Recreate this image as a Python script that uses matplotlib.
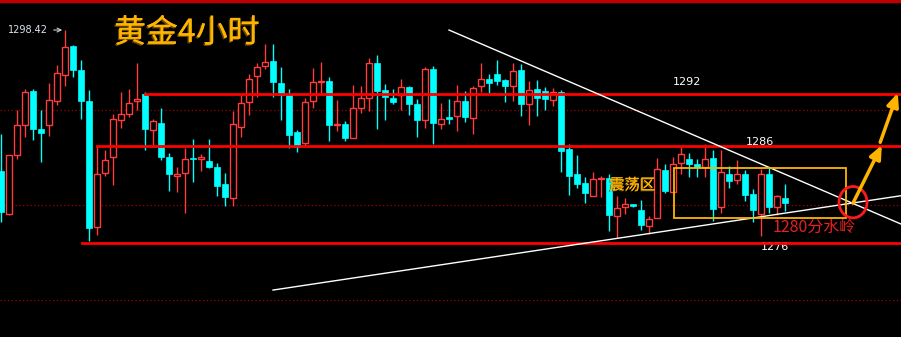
import matplotlib
matplotlib.use("Agg")
import matplotlib.pyplot as plt
import matplotlib.patheffects as pe
from matplotlib.patches import Rectangle, Ellipse, FancyArrowPatch

plt.rcParams["font.family"] = ["Noto Sans CJK SC", "DejaVu Sans"]

# 4h gold candles (price units)
opens = [1283.6, 1279.1, 1285.3, 1288.4, 1292.0, 1288.0, 1288.4, 1291.0, 1293.7, 1296.7,
         1294.2, 1290.9, 1277.7, 1283.4, 1285.1, 1288.9, 1289.6, 1291.0, 1291.7, 1287.9,
         1288.6, 1285.1, 1283.1, 1283.4, 1284.9, 1284.8, 1284.6, 1284.0, 1282.2, 1280.7,
         1288.2, 1290.8, 1293.6, 1294.6, 1295.2, 1292.8, 1291.7, 1287.7, 1286.5, 1290.9,
         1292.9, 1293.1, 1288.4, 1288.5, 1287.1, 1290.2, 1291.3, 1294.9, 1292.1, 1291.3,
         1291.6, 1292.4, 1290.6, 1288.9, 1294.3, 1288.5, 1289.3, 1289.4, 1290.9, 1289.2,
         1292.5, 1293.3, 1293.8, 1293.2, 1292.5, 1294.2, 1290.6, 1292.2, 1292.0, 1291.1,
         1291.9, 1285.9, 1283.3, 1282.3, 1281.0, 1282.7, 1282.8, 1278.8, 1279.8, 1280.1,
         1279.5, 1277.8, 1278.6, 1283.7, 1281.4, 1284.4, 1284.8, 1284.3, 1284.0, 1285.0,
         1279.8, 1283.3, 1282.6, 1283.3, 1281.2, 1279.1, 1283.3, 1279.8, 1280.7]
highs = [1287.5, 1285.3, 1290.0, 1292.2, 1292.2, 1290.0, 1292.8, 1294.7, 1298.42, 1296.8,
         1295.3, 1292.1, 1286.2, 1285.8, 1289.6, 1291.9, 1292.2, 1295.0, 1291.9, 1289.1,
         1290.2, 1285.5, 1284.0, 1286.0, 1287.0, 1285.4, 1287.0, 1284.4, 1283.4, 1289.9,
         1291.7, 1293.8, 1294.9, 1296.9, 1296.9, 1294.5, 1292.2, 1287.9, 1291.3, 1294.4,
         1295.1, 1293.5, 1291.1, 1288.8, 1292.6, 1292.5, 1295.5, 1295.8, 1292.7, 1292.2,
         1293.3, 1292.5, 1291.2, 1294.5, 1294.6, 1290.7, 1291.2, 1292.6, 1292.0, 1292.5,
         1295.0, 1293.8, 1295.3, 1293.3, 1295.0, 1294.8, 1293.1, 1293.2, 1292.4, 1292.3,
         1292.1, 1286.4, 1285.3, 1283.0, 1283.5, 1283.1, 1283.3, 1281.0, 1280.7, 1280.1,
         1280.5, 1278.8, 1284.9, 1284.3, 1285.1, 1286.1, 1285.5, 1284.8, 1286.4, 1285.8,
         1285.8, 1284.1, 1284.7, 1283.7, 1281.7, 1283.8, 1283.9, 1281.1, 1282.2]
lows = [1278.2, 1278.9, 1284.8, 1287.2, 1286.8, 1284.5, 1287.3, 1290.5, 1292.5, 1293.5,
        1289.1, 1276.2, 1276.8, 1283.1, 1282.1, 1288.1, 1289.3, 1290.0, 1285.8, 1286.3,
        1284.7, 1281.5, 1281.4, 1279.2, 1282.4, 1283.6, 1283.9, 1280.9, 1279.9, 1279.9,
        1287.2, 1289.5, 1291.4, 1294.3, 1291.4, 1288.9, 1286.0, 1285.6, 1286.2, 1290.2,
        1291.8, 1286.7, 1287.8, 1286.7, 1287.1, 1289.7, 1289.9, 1288.0, 1288.9, 1290.6,
        1290.0, 1289.5, 1287.2, 1288.1, 1286.4, 1288.0, 1288.5, 1287.8, 1288.7, 1287.5,
        1291.9, 1291.8, 1292.6, 1290.8, 1291.0, 1289.4, 1288.4, 1289.4, 1290.0, 1290.4,
        1283.5, 1281.1, 1281.8, 1280.2, 1281.0, 1280.8, 1277.3, 1276.5, 1279.1, 1279.8,
        1277.4, 1277.0, 1278.6, 1281.3, 1281.4, 1283.3, 1282.9, 1283.0, 1283.0, 1278.3,
        1279.2, 1281.8, 1282.2, 1280.4, 1278.2, 1276.7, 1279.2, 1279.0, 1279.4]
closes = [1279.3, 1285.3, 1288.4, 1291.9, 1288.0, 1287.6, 1291.1, 1293.9, 1296.6, 1294.2,
          1291.0, 1277.6, 1283.3, 1284.7, 1289.1, 1289.6, 1290.7, 1291.2, 1288.0, 1288.8,
          1285.1, 1283.3, 1283.3, 1284.8, 1284.8, 1285.1, 1284.0, 1282.0, 1280.8, 1288.5,
          1290.7, 1293.3, 1294.5, 1295.1, 1292.9, 1291.6, 1287.4, 1286.1, 1290.8, 1293.0,
          1293.1, 1288.4, 1288.5, 1287.1, 1290.2, 1291.3, 1295.0, 1292.0, 1291.4, 1290.8,
          1292.4, 1290.6, 1288.9, 1294.3, 1288.6, 1289.1, 1289.1, 1290.9, 1289.3, 1292.3,
          1293.3, 1292.8, 1293.1, 1292.5, 1294.1, 1290.6, 1292.1, 1291.3, 1291.2, 1291.9,
          1285.7, 1283.1, 1282.2, 1281.3, 1282.7, 1282.8, 1278.9, 1279.7, 1280.1, 1279.9,
          1277.9, 1278.5, 1283.8, 1281.5, 1284.3, 1285.4, 1284.3, 1284.0, 1284.8, 1279.6,
          1283.5, 1282.5, 1283.3, 1281.1, 1279.5, 1283.3, 1279.8, 1280.9, 1280.2]

levels = [1291.7, 1286.2, 1276.0]
level_start = [18, 12, 10.1]
level_labels = ["1292", "1286", "1276"]
grid_levels = [1290, 1280, 1270]
peak = 1298.42

BG = "#000000"
UP = "#ff3c3c"
DOWN = "#00ffff"
GOLD = "#ffb400"

fig = plt.figure(figsize=(9.01, 3.37), dpi=100, facecolor=BG)
ax = fig.add_axes([0, 0, 1, 1], facecolor=BG)
ax.set_xlim(-0.125, 112.5)
ax.set_ylim(1266.11, 1301.58)
ax.axis("off")

for g in grid_levels:
    ax.axhline(g, color="#a00000", lw=0.9, ls=(0, (1, 2)), zorder=1)
ax.axhline(1301.5, color="#c00000", lw=2.5, zorder=1)

w = 0.75
for i, (o, h, l, c) in enumerate(zip(opens, highs, lows, closes)):
    top, bot = max(o, c), min(o, c)
    if c > o:
        ax.vlines(i, top, h, color=UP, lw=1, zorder=3)
        ax.vlines(i, l, bot, color=UP, lw=1, zorder=3)
        ax.add_patch(Rectangle((i - w / 2, bot), w, max(top - bot, 0.08),
                               facecolor=BG, edgecolor=UP, lw=1, zorder=3))
    else:
        ax.vlines(i, l, h, color=DOWN, lw=1, zorder=3)
        ax.add_patch(Rectangle((i - w / 2, bot), w, max(top - bot, 0.12),
                               facecolor=DOWN, edgecolor=DOWN, lw=0.5, zorder=3))

for lv, x0 in zip(levels, level_start):
    ax.plot([x0, 112.5], [lv, lv], color="#ff0000", lw=2, zorder=4)

label_pos = [(85.75, 1293.0), (94.9, 1286.6), (96.75, 1275.6)]
for (lx, ly), txt in zip(label_pos, level_labels):
    ax.text(lx, ly, txt, color="white", fontsize=8, ha="center", va="center",
            family="DejaVu Sans")

# trend lines
ax.plot([56, 112.5], [1298.42, 1278.0], color="white", lw=1, zorder=5)
ax.plot([34, 112.5], [1271.05, 1280.98], color="white", lw=1, zorder=5)

# consolidation box
ax.add_patch(Rectangle((84.1, 1278.6), 21.5, 5.3, fill=False, edgecolor=GOLD, lw=1.3, zorder=6))
ax.text(78.9, 1282.1, "震荡区", color=GOLD, fontsize=11, ha="center", va="center", zorder=7,
        path_effects=[pe.withSimplePatchShadow(offset=(-0.7, -0.7), shadow_rgbFace="#6b4a00",
                                               alpha=1), pe.Normal()])
ax.text(101.6, 1277.7, "1280分水岭", color="#e82020", fontsize=11.5, ha="center", va="center",
        zorder=7)
ax.add_patch(Ellipse((106.5, 1280.3), 3.5, 3.3, fill=False, edgecolor="#ff1a1a", lw=2, zorder=7))
for (x0, y0), (x1, y1) in [((106.5, 1280.2), (110.1, 1286.3)), ((109.9, 1286.6), (112.1, 1291.8))]:
    ax.add_patch(FancyArrowPatch((x0, y0), (x1, y1), arrowstyle="-|>,head_length=8,head_width=3.5",
                                 color=GOLD, lw=2.5, zorder=8, shrinkA=0, shrinkB=0))

ax.annotate(f"{peak:.2f}", xy=(8, peak), xytext=(0.9, peak), color="#dde4ec", fontsize=7,
            va="center", ha="left", family="DejaVu Sans",
            arrowprops=dict(arrowstyle="->", color="#cfcfcf", lw=0.8))

ax.text(23.25, 1298.1, "黄金4小时", color=GOLD, fontsize=23, ha="center", va="center", zorder=7,
        path_effects=[pe.withSimplePatchShadow(offset=(-1, -1), shadow_rgbFace="#6b4a00",
                                               alpha=1), pe.Normal()])

fig.savefig("out.png", dpi=100, facecolor=BG)
